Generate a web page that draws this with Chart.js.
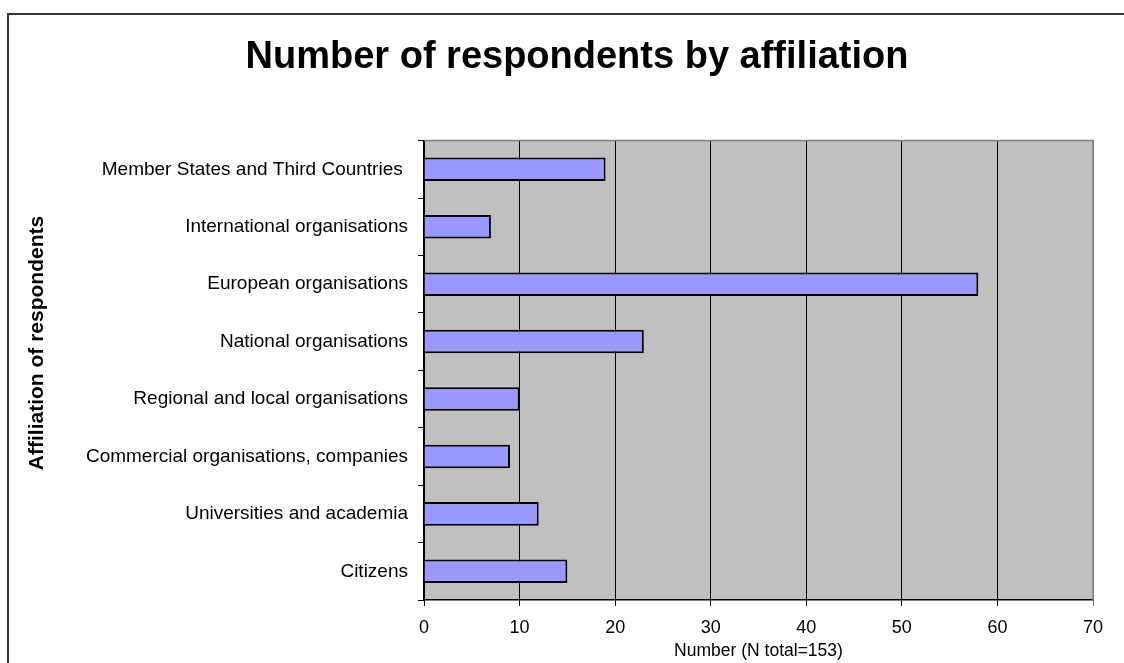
<!DOCTYPE html>
<html>
<head>
<meta charset="utf-8">
<script src="https://cdn.jsdelivr.net/npm/chart.js@4"></script>
<style>
  body { margin: 0; background: #fff; }
  #wrap { width: 1124px; height: 663px; position: relative; }
</style>
</head>
<body>
<div id="wrap"><canvas id="chart" width="1124" height="663"></canvas></div>
<script>
// data
const categories = [
  'Member States and Third Countries ',
  'International organisations',
  'European organisations',
  'National organisations',
  'Regional and local organisations',
  'Commercial organisations, companies',
  'Universities and academia',
  'Citizens'
];
const respondents = [19, 7, 58, 23, 10, 9, 12, 15];
const xTicks = [0, 10, 20, 30, 40, 50, 60, 70];

const FONT = 'Arial, "Liberation Sans", sans-serif';

// outer frame, plot background and y title
const decor = {
  id: 'decor',
  beforeDraw(chart) {
    const ctx = chart.ctx;
    const a = chart.chartArea;
    ctx.save();
    ctx.strokeStyle = '#333';
    ctx.lineWidth = 2;
    ctx.strokeRect(8, 14, 1200, 700);
    ctx.fillStyle = '#c0c0c0';
    ctx.fillRect(a.left, a.top, a.right - a.left, a.bottom - a.top);
    ctx.restore();
  },
  afterDatasetsDraw(chart) {
    const ctx = chart.ctx;
    const a = chart.chartArea;
    ctx.save();
    ctx.strokeStyle = '#808080';
    ctx.lineWidth = 1.5;
    ctx.beginPath();
    ctx.moveTo(a.left, a.top);
    ctx.lineTo(a.right, a.top);
    ctx.lineTo(a.right, a.bottom);
    ctx.stroke();
    ctx.restore();
  },
  afterDraw(chart) {
    const ctx = chart.ctx;
    ctx.save();
    ctx.translate(37, 343);
    ctx.rotate(-Math.PI / 2);
    ctx.font = 'bold 21px ' + FONT;
    ctx.fillStyle = '#000';
    ctx.textAlign = 'center';
    ctx.textBaseline = 'middle';
    ctx.fillText('Affiliation of respondents', 0, 0);
    ctx.restore();
  }
};

new Chart(document.getElementById('chart'), {
  type: 'bar',
  data: {
    labels: categories,
    datasets: [{
      data: respondents,
      backgroundColor: '#9999ff',
      borderColor: '#000',
      borderWidth: 2,
      categoryPercentage: 1,
      barPercentage: 0.41
    }]
  },
  options: {
    indexAxis: 'y',
    responsive: false,
    animation: false,
    layout: { padding: { left: 61, right: 31, top: 0, bottom: 0 } },
    plugins: {
      legend: { display: false },
      tooltip: { enabled: false },
      title: {
        display: true,
        text: 'Number of respondents by affiliation',
        color: '#000',
        font: { family: FONT, size: 38, weight: 'bold', lineHeight: 1.2 },
        padding: { top: 35, bottom: 60 }
      }
    },
    scales: {
      x: {
        min: 0,
        max: 70,
        afterBuildTicks(scale) {
          scale.ticks = xTicks.map(v => ({ value: v }));
        },
        afterFit(scale) { scale.height = 63; },
        grid: {
          color: ctx => (ctx.tick && ctx.tick.value === 70 ? '#808080' : '#000'),
          lineWidth: 1,
          tickLength: 6,
          drawOnChartArea: true
        },
        border: { color: '#000', width: 1.5 },
        ticks: { color: '#000', font: { family: FONT, size: 18 }, padding: 11 },
        title: {
          display: true,
          text: 'Number (N total=153)',
          color: '#000',
          font: { family: FONT, size: 17.5 },
          padding: { top: 0, bottom: 1 }
        }
      },
      y: {
        afterFit(scale) { scale.width = 363; },
        grid: { drawOnChartArea: false, color: '#000', tickLength: 6, offset: true },
        border: { color: '#000', width: 1.5 },
        ticks: { color: '#000', font: { family: FONT, size: 19 }, padding: 10 }
      }
    }
  },
  plugins: [decor]
});
</script>
</body>
</html>
